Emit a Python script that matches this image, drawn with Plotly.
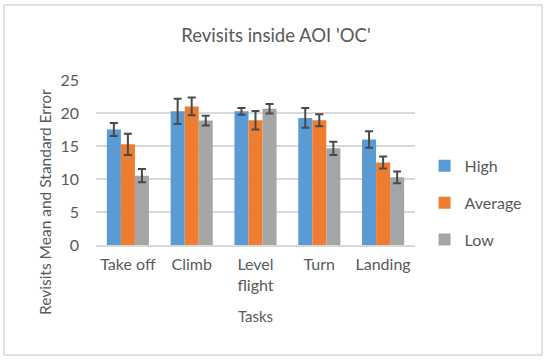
import plotly.graph_objects as go

tasks = ["Take off", "Climb", "Level<br>flight", "Turn", "Landing"]
high = [17.5, 20.25, 20.25, 19.25, 16.0]
high_err = [1.0, 1.9, 0.5, 1.5, 1.25]
average = [15.25, 21.0, 18.9, 18.9, 12.5]
average_err = [1.6, 1.35, 1.4, 0.9, 0.9]
low = [10.5, 18.85, 20.65, 14.65, 10.25]
low_err = [1.0, 0.75, 0.72, 1.0, 0.9]

series = [
    ("High", high, high_err, "#5B9BD5"),
    ("Average", average, average_err, "#ED7D31"),
    ("Low", low, low_err, "#A5A5A5"),
]

font_family = "Lato, 'Open Sans', sans-serif"
text_color = "#595959"

fig = go.Figure()
for name, vals, errs, color in series:
    fig.add_trace(go.Bar(
        name=name, x=tasks, y=vals, marker_color=color,
        marker_line_width=0, legendgroup=name,
        error_y=dict(type="data", array=errs, visible=True,
                     color="#4a4a4a", thickness=2, width=4),
    ))

fig.update_layout(
    width=550, height=361,
    margin=dict(l=96, r=135, t=80, b=116),
    paper_bgcolor="white", plot_bgcolor="white",
    barmode="group", bargap=0.34, bargroupgap=0,
    font=dict(family=font_family, color=text_color, size=15),
    title=dict(text="Revisits inside AOI 'OC'", x=276 / 550, xref="container",
               xanchor="center", y=1 - 36 / 361, yref="container",
               yanchor="middle", font=dict(size=18.5, color=text_color)),
    showlegend=True,
    legend=dict(x=1.03, xanchor="left", y=0.255, yanchor="middle",
                tracegroupgap=13, font=dict(size=16, color=text_color),
                bgcolor="rgba(0,0,0,0)"),
    xaxis=dict(showline=True, linecolor="#D9D9D9", linewidth=1.5,
               ticks="", showgrid=False, ticklabelstandoff=4,
               tickfont=dict(size=16, color=text_color),
               title=dict(text="Tasks", standoff=19,
                          font=dict(size=15, color=text_color))),
    yaxis=dict(range=[0, 25], dtick=5, showgrid=True, gridcolor="#D9D9D9",
               gridwidth=1.5, zeroline=False, showline=False, ticks="",
               ticklabelstandoff=16,
               tickfont=dict(size=16, color=text_color)),
    annotations=[dict(text="Revisits Mean and Standard Error", textangle=-90,
                      xref="paper", yref="paper",
                      x=(45 - 96) / 319, y=(245 - 202) / 165,
                      xanchor="center", yanchor="middle", showarrow=False,
                      font=dict(size=15.5, color=text_color))],
    shapes=[dict(type="rect", xref="paper", yref="paper",
                 x0=(4 - 96) / 319, x1=(542 - 96) / 319,
                 y0=(245 - 355) / 165, y1=(245 - 5) / 165,
                 line=dict(color="#D9D9D9", width=1.5), layer="below")],
)

fig.write_html("out.html", config={"displayModeBar": False},
               post_script="document.body.style.margin='0';")
